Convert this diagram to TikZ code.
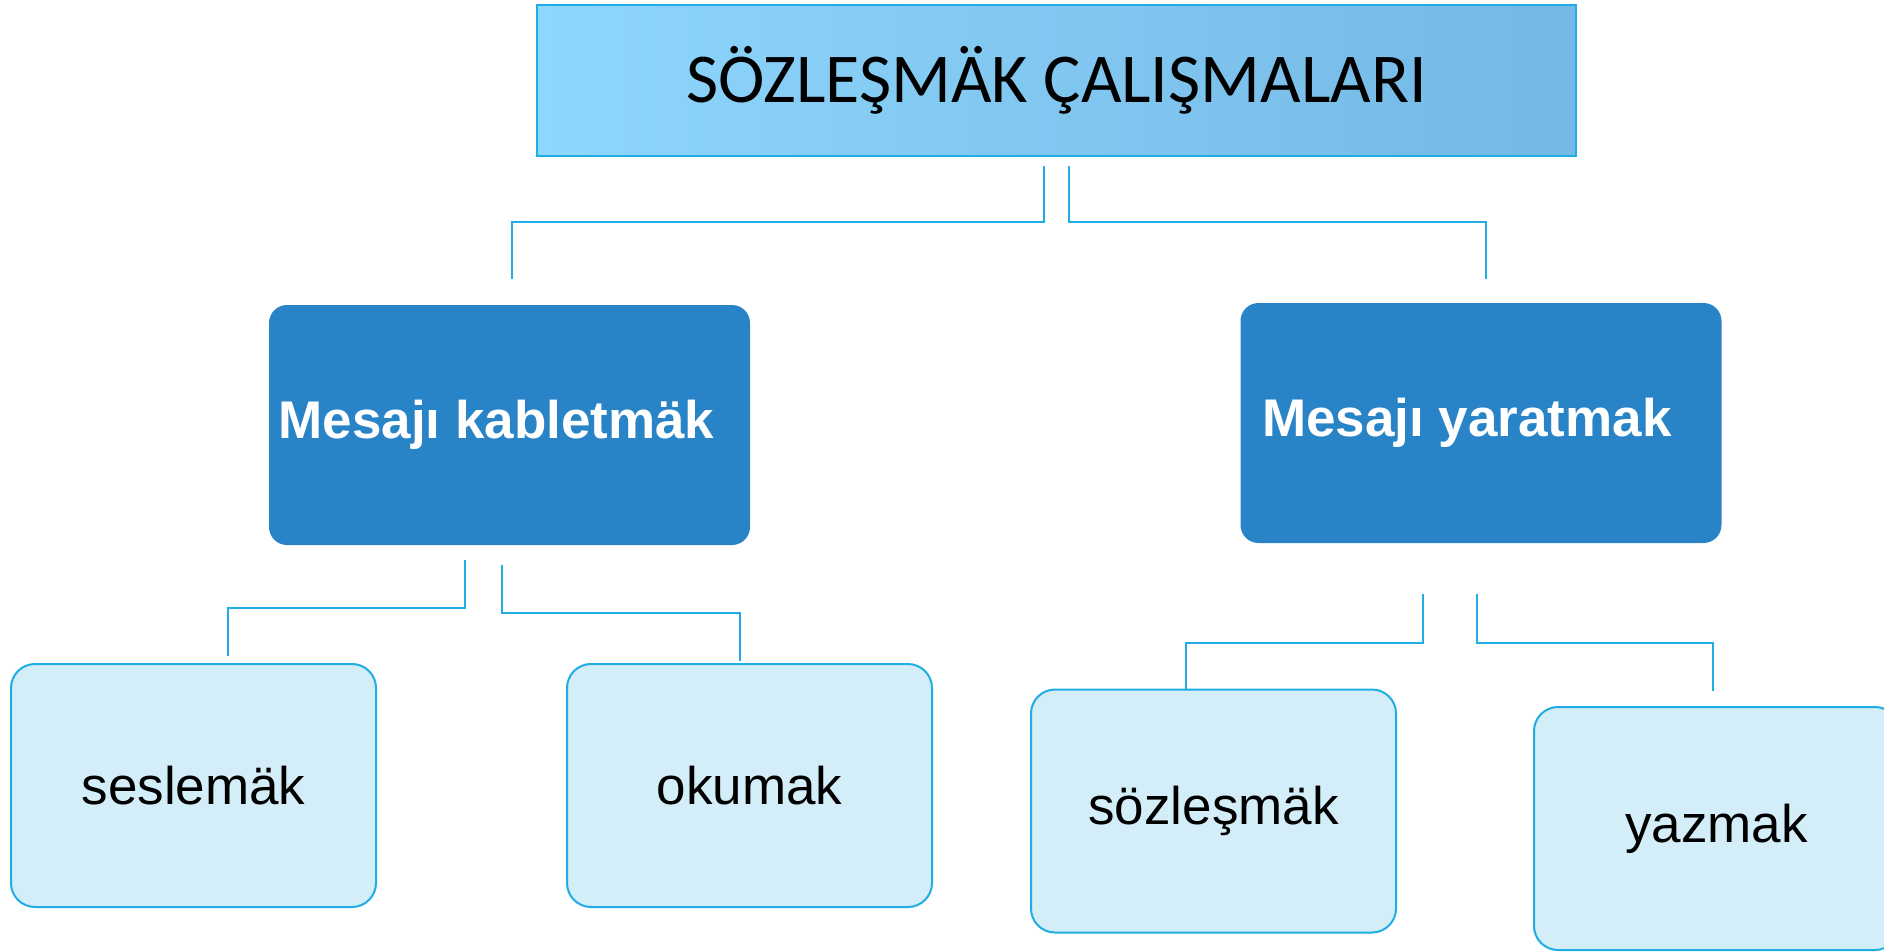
\documentclass[tikz,border=0pt]{standalone}
\usepackage{fontspec}
\setmainfont{Liberation Sans}
\newfontfamily\titlefont{Carlito}
\usetikzlibrary{calc}
\definecolor{linecol}{HTML}{1FADE4}
\definecolor{midblue}{HTML}{2884C7}
\definecolor{lightfill}{HTML}{D4EEF9}
\definecolor{titleL}{HTML}{8DD6FC}
\definecolor{titleR}{HTML}{74B8E5}
\tikzset{
  conn/.style={draw=linecol, line width=1pt},
  titlebox/.style={rectangle, draw=linecol, line width=1.2pt, left color=titleL, right color=titleR,
    minimum width=519.5pt, minimum height=75.5pt, inner sep=0pt,
    font=\titlefont\fontsize{35}{40}\selectfont},
  midbox/.style={rectangle, rounded corners=9pt, fill=midblue, minimum width=240.5pt,
    minimum height=120pt, inner sep=0pt, text=white, font=\bfseries\fontsize{26.5}{30}\selectfont},
  leafbox/.style={rectangle, rounded corners=12pt, draw=linecol, line width=1pt, fill=lightfill,
    minimum width=182.5pt, minimum height=121.5pt, inner sep=0pt, font=\fontsize{26.5}{30}\selectfont},
}
\begin{document}
\begin{tikzpicture}[x=0.5pt,y=-0.5pt]
\clip (0,0) rectangle (1884,952);
\fill[white] (0,0) rectangle (1884,952);

\node[titlebox] (title) at (1056.5,80.5) {SÖZLEŞMÄK ÇALIŞMALARI};

\node[midbox] (rec) at (509.5,425) {\raisebox{-1.5pt}{Mesajı kabletmäk}\kern 13pt};
\node[midbox] (cre) at (1481,423) {\raisebox{-1.5pt}{Mesajı yaratmak}\kern 14pt};

\node[leafbox] (ses) at (193.5,785.5) {seslemäk};
\node[leafbox] (oku) at (749.5,785.5) {okumak};
\node[leafbox] (soz) at (1213.5,811) {sözleşmäk};
\node[leafbox] (yaz) at (1716.5,828.5) {yazmak};

\coordinate (s1) at (1044,166);
\coordinate (e1) at (512,279);
\coordinate (s2) at (1069,166);
\coordinate (e2) at (1486,279);
\coordinate (s3) at (465,560);
\coordinate (e3) at (228,656);
\coordinate (s4) at (502,565);
\coordinate (e4) at (740,661);
\coordinate (s5) at (1423,594);
\coordinate (e5) at (1186,690);
\coordinate (s6) at (1477,594);
\coordinate (e6) at (1713,691);

\draw[conn] (s1) -- ++(0,56) -| (e1);
\draw[conn] (s2) -- ++(0,56) -| (e2);
\draw[conn] (s3) -- ++(0,48) -| (e3);
\draw[conn] (s4) -- ++(0,48) -| (e4);
\draw[conn] (s5) -- ++(0,49) -| (e5);
\draw[conn] (s6) -- ++(0,49) -| (e6);
\end{tikzpicture}
\end{document}
